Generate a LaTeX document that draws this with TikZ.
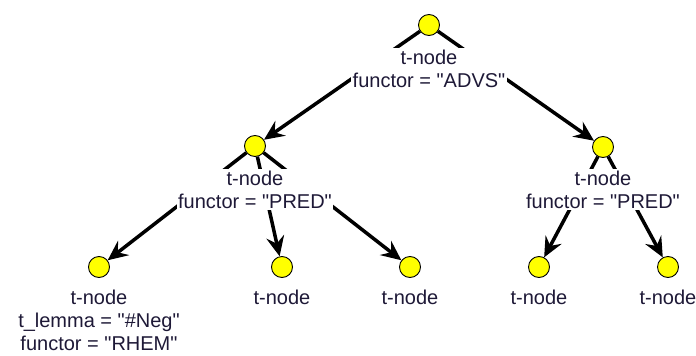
\documentclass[tikz,border=0pt]{standalone}
\usepackage{fontspec}
\setmainfont{Liberation Sans}[Ligatures=TeXOff]
\usetikzlibrary{arrows.meta}
\definecolor{tnodeyellow}{RGB}{255,255,0}
\definecolor{tlabeltext}{RGB}{30,25,55}
\tikzset{every picture/.style={line width=0.75pt}}
\tikzset{
  tnode/.style={circle,draw=black,line width=0.9pt,fill=tnodeyellow,minimum size=21pt,inner sep=0pt},
  tlabel/.style={anchor=north,fill=white,text=tlabeltext,inner sep=1.5pt,align=center,font=\fontsize{20}{23}\selectfont},
  tedge/.style={line width=3.5pt,-{Stealth[length=20pt,width=18pt,inset=7pt]}},
}

\begin{document}
\begin{tikzpicture}[x=1pt,y=1pt,yscale=-1,xscale=1]
	\useasboundingbox (0,0) rectangle (696,356);

	%Shape: Circle [root]
	\node[tnode] (root) at (429,25) {};
	%Shape: Circle [predl]
	\node[tnode] (predl) at (255,146) {};
	%Shape: Circle [predr]
	\node[tnode] (predr) at (603,147) {};
	%Shape: Circle [leaves]
	\node[tnode] (rhem) at (99,267) {};
	\node[tnode] (leafb) at (282,267) {};
	\node[tnode] (leafc) at (410,267) {};
	\node[tnode] (leafd) at (539,267) {};
	\node[tnode] (leafe) at (668,267) {};

	%Straight Lines [edges]
	\draw[tedge] (root) -- (predl);
	\draw[tedge] (root) -- (predr);
	\draw[tedge] (predl) -- (rhem);
	\draw[tedge] (predl) -- (leafb);
	\draw[tedge] (predl) -- (leafc);
	\draw[tedge] (predr) -- (leafd);
	\draw[tedge] (predr) -- (leafe);

	% Text Node
	\node[tlabel] (rootlbl) at (429,48) {t-node\\functor = "ADVS"};
	% Text Node
	\node[tlabel] (predllbl) at (255,169) {t-node\\functor = "PRED"};
	% Text Node
	\node[tlabel] (predrlbl) at (603,169) {t-node\\functor = "PRED"};
	% Text Node
	\node[tlabel] (rhemlbl) at (99,288) {t-node\\t\_lemma = "\#Neg"\\functor = "RHEM"};
	% Text Node
	\node[tlabel] (leafblbl) at (282,288) {t-node};
	% Text Node
	\node[tlabel] (leafclbl) at (410,288) {t-node};
	% Text Node
	\node[tlabel] (leafdlbl) at (539,288) {t-node};
	% Text Node
	\node[tlabel] (leafelbl) at (668,288) {t-node};

\end{tikzpicture}
\end{document}
